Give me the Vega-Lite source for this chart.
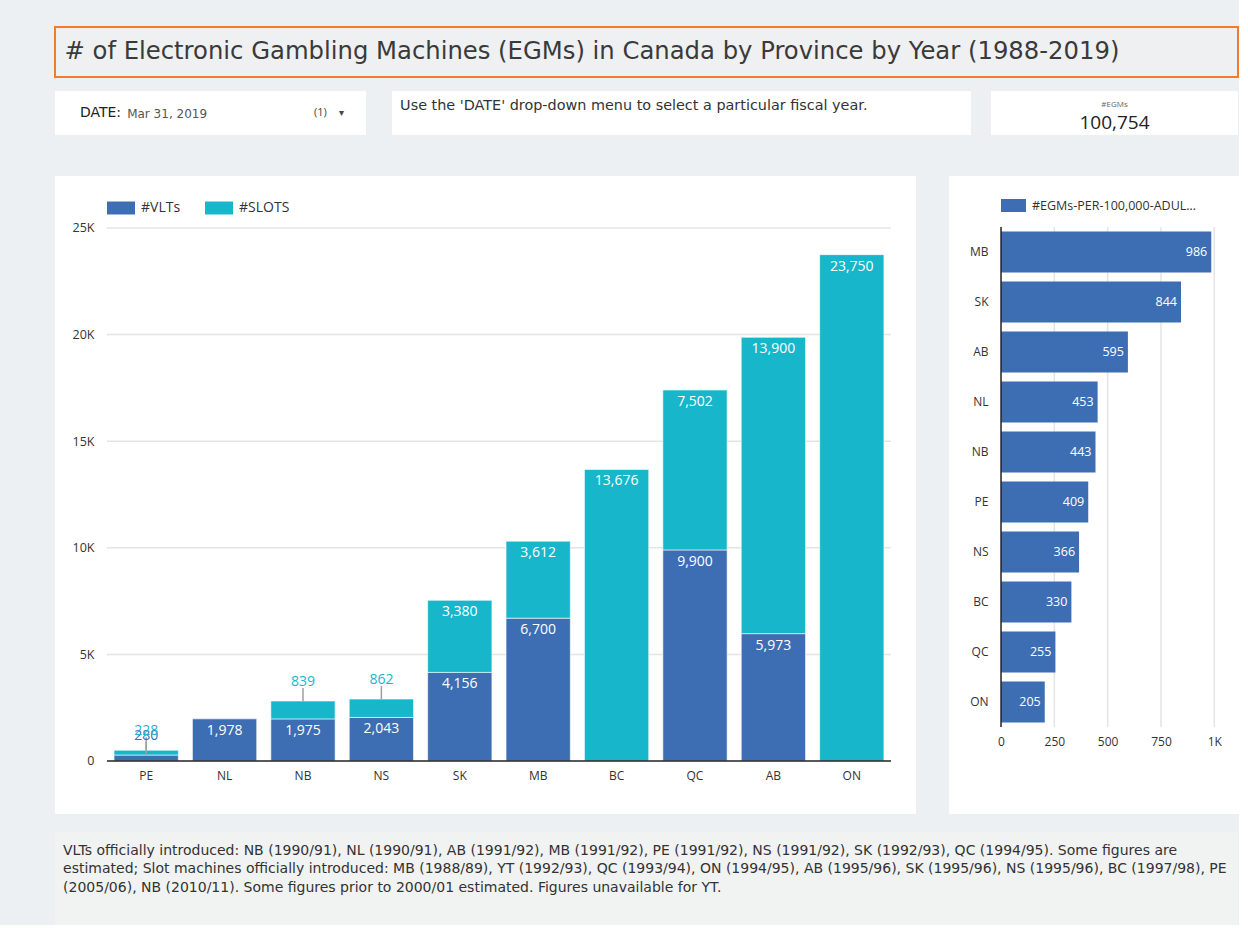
{
  "$schema": "https://vega.github.io/schema/vega-lite/v6.json",
  "background": "#edf0f2",
  "padding": {"left": 54, "top": 26, "right": 0, "bottom": 0},
  "config": {"font": "Open Sans", "view": {"stroke": null}},
  "spacing": 41,
  "vconcat": [
    {
      "spacing": 13,
      "vconcat": [
        {
          "width": 1183, "height": 50,
          "view": {"fill": "#eff0f1", "stroke": "#f47b2b", "strokeWidth": 2},
          "data": {"values": [{"t": "# of Electronic Gambling Machines (EGMs) in Canada by Province by Year (1988-2019)"}]},
          "mark": {"type": "text", "align": "left", "baseline": "middle", "font": "DejaVu Sans", "fontSize": 24.3, "color": "#3a3a3a"},
          "encoding": {
            "text": {"field": "t"},
            "x": {"datum": 0.8, "type": "quantitative", "scale": {"domain": [0, 100]}, "axis": null}
          }
        },
        {
          "spacing": 20,
          "hconcat": [
            {
              "spacing": 26,
              "hconcat": [
                {
                  "width": 311, "height": 44,
                  "view": {"fill": "white", "stroke": null},
                  "layer": [
                    {
                      "data": {"values": [{"t": "DATE:"}]},
                      "mark": {"type": "text", "align": "left", "baseline": "middle", "font": "DejaVu Sans", "fontSize": 14, "color": "#222"},
                      "encoding": {"text": {"field": "t"}, "x": {"datum": 8.0, "type": "quantitative", "scale": {"domain": [0, 100]}, "axis": null}}
                    },
                    {
                      "data": {"values": [{"t": "Mar 31, 2019"}]},
                      "mark": {"type": "text", "align": "left", "baseline": "middle", "font": "DejaVu Sans", "fontSize": 12, "color": "#555", "dy": 1},
                      "encoding": {"text": {"field": "t"}, "x": {"datum": 23.2, "type": "quantitative", "scale": {"domain": [0, 100]}, "axis": null}}
                    },
                    {
                      "data": {"values": [{"t": "(1)"}]},
                      "mark": {"type": "text", "align": "left", "baseline": "middle", "fontSize": 11, "color": "#444"},
                      "encoding": {"text": {"field": "t"}, "x": {"datum": 83.3, "type": "quantitative", "scale": {"domain": [0, 100]}, "axis": null}}
                    },
                    {
                      "data": {"values": [{"t": "▾"}]},
                      "mark": {"type": "text", "align": "left", "baseline": "middle", "fontSize": 10, "color": "#444"},
                      "encoding": {"text": {"field": "t"}, "x": {"datum": 91.3, "type": "quantitative", "scale": {"domain": [0, 100]}, "axis": null}}
                    }
                  ]
                },
                {
                  "width": 579, "height": 44,
                  "view": {"fill": "white", "stroke": null},
                  "data": {"values": [{"t": "Use the 'DATE' drop-down menu to select a particular fiscal year."}]},
                  "mark": {"type": "text", "align": "left", "baseline": "middle", "font": "DejaVu Sans", "fontSize": 14.4, "color": "#333", "dy": -7},
                  "encoding": {"text": {"field": "t"}, "x": {"datum": 1.4, "type": "quantitative", "scale": {"domain": [0, 100]}, "axis": null}}
                }
              ]
            },
            {
              "width": 247, "height": 44,
              "view": {"fill": "white", "stroke": null},
              "layer": [
                {
                  "data": {"values": [{"t": "#EGMs"}]},
                  "mark": {"type": "text", "align": "center", "baseline": "middle", "fontSize": 8, "color": "#666", "dy": -8},
                  "encoding": {"text": {"field": "t"}}
                },
                {
                  "data": {"values": [{"t": "100,754"}]},
                  "mark": {"type": "text", "align": "center", "baseline": "middle", "fontSize": 19, "color": "#222", "dy": 10},
                  "encoding": {"text": {"field": "t"}}
                }
              ]
            }
          ]
        }
      ]
    },
    {
      "spacing": 18,
      "vconcat": [
        {
          "spacing": 33,
          "hconcat": [
            {
              "width": 861, "height": 638,
              "view": {"fill": "white", "stroke": null},
              "data": {"values": [
                {"prov": "PE", "series": "#VLTs", "value": 280},
                {"prov": "NL", "series": "#VLTs", "value": 1978},
                {"prov": "NB", "series": "#VLTs", "value": 1975},
                {"prov": "NS", "series": "#VLTs", "value": 2043},
                {"prov": "SK", "series": "#VLTs", "value": 4156},
                {"prov": "MB", "series": "#VLTs", "value": 6700},
                {"prov": "QC", "series": "#VLTs", "value": 9900},
                {"prov": "AB", "series": "#VLTs", "value": 5973},
                {"prov": "PE", "series": "#SLOTS", "value": 228},
                {"prov": "NB", "series": "#SLOTS", "value": 839},
                {"prov": "NS", "series": "#SLOTS", "value": 862},
                {"prov": "SK", "series": "#SLOTS", "value": 3380},
                {"prov": "MB", "series": "#SLOTS", "value": 3612},
                {"prov": "BC", "series": "#SLOTS", "value": 13676},
                {"prov": "QC", "series": "#SLOTS", "value": 7502},
                {"prov": "AB", "series": "#SLOTS", "value": 13900},
                {"prov": "ON", "series": "#SLOTS", "value": 23750}
              ]},
              "transform": [
                {"stack": "value", "groupby": ["prov"], "sort": [{"field": "series", "order": "descending"}], "as": ["v0", "v1"]}
              ],
              "layer": [
                {
                  "data": {"values": [{"g": 5000}, {"g": 10000}, {"g": 15000}, {"g": 20000}, {"g": 25000}]},
                  "mark": {"type": "rule", "color": "#e4e4e4", "strokeWidth": 1.5},
                  "encoding": {
                    "y": {"field": "g", "type": "quantitative", "axis": {"title": null}},
                    "x": {"datum": "PE", "type": "nominal", "bandPosition": -0.11, "axis": {"title": null, "bandPosition": 0.5}},
                    "x2": {"datum": "ON", "bandPosition": 1.11}
                  }
                },
                {
                  "mark": {"type": "bar", "stroke": "white", "strokeWidth": 0.6},
                  "encoding": {
                    "x": {"field": "prov", "type": "nominal", "scale": {"domain": ["PE", "NL", "NB", "NS", "SK", "MB", "BC", "QC", "AB", "ON"], "paddingInner": 0.18, "paddingOuter": 0.581, "align": 0.648},
                      "axis": {"title": null, "bandPosition": 0.5, "labelAlign": "center", "labelAngle": 0, "domain": false, "ticks": false, "grid": false, "offset": -53, "labelPadding": 14, "labelFontSize": 12, "labelColor": "#333"}},
                    "y": {"field": "v1", "type": "quantitative", "scale": {"domain": [-2486, 27439], "nice": false, "zero": false},
                      "axis": {"title": null, "values": [0, 5000, 10000, 15000, 20000, 25000], "labelExpr": "datum.value == 0 ? '0' : (datum.value / 1000) + 'K'", "domain": false, "ticks": false, "grid": false, "offset": -41, "labelPadding": 2, "labelFontSize": 12.5, "labelColor": "#333"}},
                    "y2": {"field": "v0"},
                    "color": {"field": "series", "type": "nominal", "scale": {"domain": ["#VLTs", "#SLOTS"], "range": ["#3d6eb4", "#18b6cb"]},
                      "legend": {"title": null, "orient": "none", "legendX": 52, "legendY": 167, "direction": "horizontal", "symbolType": "M-1,-0.464H1V0.464H-1Z", "symbolSize": 784, "symbolStrokeWidth": 0, "labelFontSize": 14, "labelColor": "#333", "columnPadding": 24, "labelOffset": 6}}
                  }
                },
                {
                  "data": {"values": [{"g": 0}]},
                  "mark": {"type": "rule", "color": "#222", "strokeWidth": 1.5},
                  "encoding": {
                    "y": {"field": "g", "type": "quantitative", "axis": {"title": null}},
                    "x": {"datum": "PE", "type": "nominal", "bandPosition": -0.11, "axis": {"title": null, "bandPosition": 0.5}},
                    "x2": {"datum": "ON", "bandPosition": 1.11}
                  }
                },
                {
                  "transform": [{"filter": "datum.value >= 1000"}],
                  "mark": {"type": "text", "baseline": "top", "dy": 5, "fontSize": 14, "color": "white"},
                  "encoding": {
                    "x": {"field": "prov", "type": "nominal", "axis": {"title": null, "bandPosition": 0.5}},
                    "y": {"field": "v1", "type": "quantitative", "axis": {"title": null}},
                    "text": {"field": "value", "type": "quantitative", "format": ","}
                  }
                },
                {
                  "transform": [{"filter": "datum.value > 0 && datum.value < 1000"}],
                  "mark": {"type": "rule", "color": "#9e9e9e", "strokeWidth": 1.5, "y2Offset": -13},
                  "encoding": {
                    "x": {"field": "prov", "type": "nominal", "axis": {"title": null, "bandPosition": 0.5}},
                    "y": {"field": "v1", "type": "quantitative", "axis": {"title": null}},
                    "y2": {"field": "v1"}
                  }
                },
                {
                  "transform": [{"filter": "datum.value > 0 && datum.value < 1000"}],
                  "mark": {"type": "text", "baseline": "middle", "dy": -19, "fontSize": 14},
                  "encoding": {
                    "x": {"field": "prov", "type": "nominal", "axis": {"title": null, "bandPosition": 0.5}},
                    "y": {"field": "v1", "type": "quantitative", "axis": {"title": null}},
                    "text": {"field": "value", "type": "quantitative", "format": ","},
                    "color": {"field": "series", "type": "nominal", "legend": null}
                  }
                }
              ]
            },
            {
              "width": 290, "height": 638,
              "view": {"fill": "white", "stroke": null},
              "data": {"values": [
                {"prov": "MB", "value": 986},
                {"prov": "SK", "value": 844},
                {"prov": "AB", "value": 595},
                {"prov": "NL", "value": 453},
                {"prov": "NB", "value": 443},
                {"prov": "PE", "value": 409},
                {"prov": "NS", "value": 366},
                {"prov": "BC", "value": 330},
                {"prov": "QC", "value": 255},
                {"prov": "ON", "value": 205}
              ]},
              "layer": [
                {
                  "data": {"values": [{"g": 250}, {"g": 500}, {"g": 750}, {"g": 1000}]},
                  "mark": {"type": "rule", "color": "#e4e4e4", "strokeWidth": 1.5},
                  "encoding": {
                    "x": {"field": "g", "type": "quantitative", "axis": {"title": null}},
                    "y": {"datum": "MB", "type": "nominal", "bandPosition": -0.11, "axis": {"title": null, "bandPosition": 0.5}},
                    "y2": {"datum": "ON", "bandPosition": 1.11}
                  }
                },
                {
                  "mark": {"type": "bar"},
                  "encoding": {
                    "y": {"field": "prov", "type": "nominal", "scale": {"domain": ["MB", "SK", "AB", "NL", "NB", "PE", "NS", "BC", "QC", "ON"], "range": [51, 551], "paddingInner": 0.18, "paddingOuter": 0.09},
                      "axis": {"title": null, "bandPosition": 0.5, "domain": false, "ticks": false, "grid": false, "offset": -52, "labelPadding": 13, "labelFontSize": 12, "labelColor": "#333"}},
                    "x": {"field": "value", "type": "quantitative", "scale": {"domain": [-244, 1116], "nice": false, "zero": false},
                      "axis": {"title": null, "values": [0, 250, 500, 750, 1000], "labelExpr": "datum.value >= 1000 ? '1K' : datum.label", "domain": false, "ticks": false, "grid": false, "offset": -86, "labelPadding": 8, "labelFontSize": 12, "labelColor": "#333"}},
                    "fill": {"datum": "#EGMs-PER-100,000-ADULTS", "type": "nominal", "scale": {"range": ["#3d6eb4"]},
                      "legend": {"title": null, "orient": "none", "legendX": 946, "legendY": 166, "symbolType": "M-1,-0.52H1V0.52H-1Z", "symbolSize": 625, "symbolStrokeWidth": 0, "labelFontSize": 12.5, "labelLimit": 168, "labelColor": "#333", "labelOffset": 6}}
                  }
                },
                {
                  "mark": {"type": "text", "align": "right", "baseline": "middle", "dx": -4, "fontSize": 12.5, "color": "white"},
                  "encoding": {
                    "y": {"field": "prov", "type": "nominal", "axis": {"title": null, "bandPosition": 0.5}},
                    "x": {"field": "value", "type": "quantitative", "axis": {"title": null}},
                    "text": {"field": "value", "type": "quantitative"}
                  }
                },
                {
                  "data": {"values": [{"g": 0}]},
                  "mark": {"type": "rule", "color": "#222", "strokeWidth": 1.5},
                  "encoding": {
                    "x": {"field": "g", "type": "quantitative", "axis": {"title": null}},
                    "y": {"datum": "MB", "type": "nominal", "bandPosition": -0.11, "axis": {"title": null, "bandPosition": 0.5}},
                    "y2": {"datum": "ON", "bandPosition": 1.11}
                  }
                }
              ]
            }
          ]
        },
        {
          "width": 1183, "height": 93,
          "view": {"fill": "#f1f2f2", "stroke": null},
          "data": {"values": [{"t": [
            "VLTs officially introduced: NB (1990/91), NL (1990/91), AB (1991/92), MB (1991/92), PE (1991/92), NS (1991/92), SK (1992/93), QC (1994/95). Some figures are",
            "estimated; Slot machines officially introduced: MB (1988/89), YT (1992/93), QC (1993/94), ON (1994/95), AB (1995/96), SK (1995/96), NS (1995/96), BC (1997/98), PE",
            "(2005/06), NB (2010/11). Some figures prior to 2000/01 estimated. Figures unavailable for YT."
          ]}]},
          "mark": {"type": "text", "align": "left", "baseline": "middle", "font": "DejaVu Sans", "fontSize": 14, "lineHeight": 18.8, "color": "#333", "dy": -28},
          "encoding": {"text": {"field": "t"}, "x": {"datum": 0.68, "type": "quantitative", "scale": {"domain": [0, 100]}, "axis": null}}
        }
      ]
    }
  ]
}
